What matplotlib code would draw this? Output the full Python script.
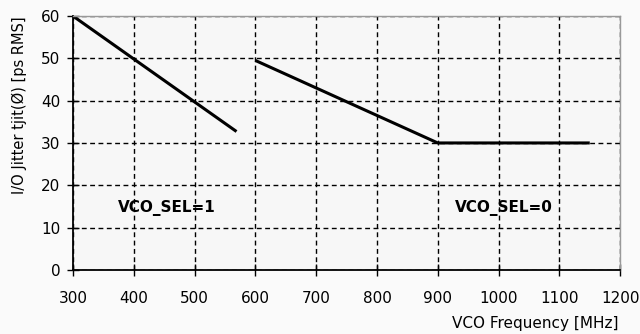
import matplotlib.pyplot as plt

# VCO_SEL=1 segment
sel1_freq = [300, 569]
sel1_jitter = [60, 32.7]
# VCO_SEL=0 segment
sel0_freq = [600, 900, 1150]
sel0_jitter = [49.5, 30, 30]

x_ticks = [300, 400, 500, 600, 700, 800, 900, 1000, 1100, 1200]
y_ticks = [0, 10, 20, 30, 40, 50, 60]

plt.rcParams['font.family'] = ['DejaVu Sans']

fig = plt.figure(figsize=(6.4, 3.34), dpi=100)
fig.patch.set_facecolor('#fafafa')
ax = fig.add_axes([0.114, 0.192, 0.855, 0.760])
ax.set_facecolor('#f7f7f7')

ax.plot(sel1_freq, sel1_jitter, color='black', lw=2.2, solid_capstyle='butt')
ax.plot(sel0_freq, sel0_jitter, color='black', lw=2.2, solid_capstyle='butt')

ax.text(455, 14.6, 'VCO_SEL=1', fontsize=11, fontweight='bold', ha='center', va='center')
ax.text(1009, 14.6, 'VCO_SEL=0', fontsize=11, fontweight='bold', ha='center', va='center')

ax.set_xlim(300, 1200)
ax.set_ylim(0, 60)
ax.set_xticks(x_ticks)
ax.set_yticks(y_ticks)
ax.grid(True, color='black', ls=(0, (3.5, 2.5)), lw=1)
ax.tick_params(direction='inout', length=8, width=1, labelsize=11, colors='black')
ax.tick_params(axis='x', pad=11)
ax.tick_params(axis='y', pad=5)

for s in ['left', 'bottom']:
    ax.spines[s].set_color('black')
    ax.spines[s].set_linewidth(1.3)
for s in ['top', 'right']:
    ax.spines[s].set_color('#999999')
    ax.spines[s].set_linewidth(1)

ax.set_ylabel('I/O Jitter tjit(Ø) [ps RMS]', fontsize=10.5)
ax.yaxis.set_label_coords(-0.084, 0.65)
fig.text(0.966, 0.008, 'VCO Frequency [MHz]', fontsize=11, ha='right', va='bottom')

fig.savefig('out.png', dpi=100, facecolor=fig.get_facecolor())
